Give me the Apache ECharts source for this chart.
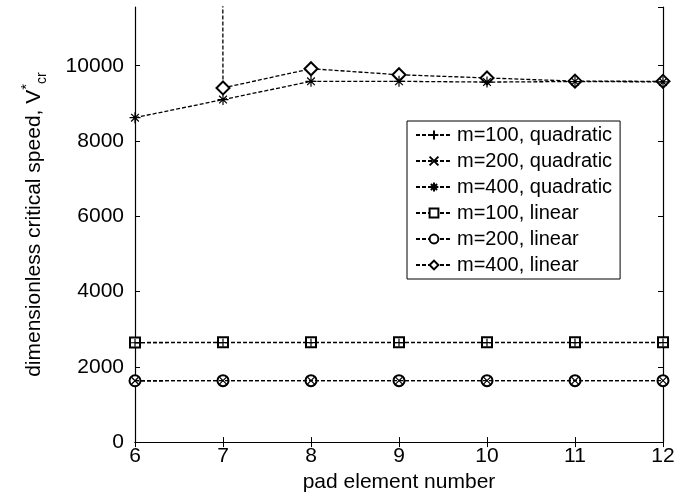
<!DOCTYPE html>
<html>
<head>
<meta charset="utf-8">
<script src="https://cdn.jsdelivr.net/npm/echarts@6/dist/echarts.min.js"></script>
<style>
  html, body { margin: 0; padding: 0; background: #fff; }
  #chart { width: 686px; height: 498px; }
</style>
</head>
<body>
<div id="chart"></div>
<script>
  // pad element numbers
  var padElements = [6, 7, 8, 9, 10, 11, 12];
  // quadratic pad elements
  var quadM100 = [2640, 2645, 2645, 2645, 2645, 2645, 2645];
  var quadM200 = [1630, 1632, 1632, 1632, 1632, 1632, 1632];
  var quadM400 = [8620, 9100, 9585, 9585, 9565, 9580, 9570];
  // linear pad elements (m=400 at 6 elements runs far off the top)
  var linM100 = [2645, 2650, 2650, 2650, 2650, 2650, 2650];
  var linM200 = [1630, 1632, 1632, 1632, 1632, 1632, 1632];
  var linM400 = [1000000, 9410, 9920, 9760, 9675, 9590, 9585];
  var yTicks = [0, 2000, 4000, 6000, 8000, 10000];

  var FONT = 'Liberation Sans, Arial, sans-serif';
  var PLUS = 'path://M5,0L5,10M0,5L10,5';
  var CROSS = 'path://M0,0L10,10M10,0L0,10';
  var STAR = 'path://M5,0L5,10M0,5L10,5M1.5,1.5L8.5,8.5M8.5,1.5L1.5,8.5';

  function pairs(vals) {
    return padElements.map(function (x, i) { return [x, vals[i]]; });
  }

  function mkSeries(name, vals, symbol, size, z) {
    return {
      name: name,
      type: 'line',
      data: pairs(vals),
      symbol: symbol,
      symbolSize: size,
      showAllSymbol: true,
      clip: true,
      z: z,
      lineStyle: { color: '#000', width: 1.3, type: [4, 2] },
      itemStyle: { color: '#000', borderColor: '#000', borderWidth: 1.2 },
      emphasis: { disabled: true },
      animation: false
    };
  }

  var chart = echarts.init(document.getElementById('chart'));
  chart.setOption({
    backgroundColor: '#fff',
    textStyle: { fontFamily: FONT },
    grid: { left: 135, right: 23, top: 7, bottom: 54 },
    legend: {
      orient: 'vertical',
      left: 407,
      top: 121,
      padding: [4, 8, 4, 8],
      itemWidth: 36,
      itemHeight: 11,
      itemGap: 6,
      borderColor: '#000',
      borderWidth: 1,
      backgroundColor: '#fff',
      textStyle: { fontFamily: FONT, fontSize: 20, color: '#000' },
      data: ['m=100, quadratic', 'm=200, quadratic', 'm=400, quadratic',
             'm=100, linear', 'm=200, linear', 'm=400, linear']
    },
    xAxis: [{
      type: 'value',
      min: 6, max: 12, interval: 1,
      name: 'pad element number',
      nameLocation: 'middle',
      nameGap: 29,
      nameTextStyle: { fontFamily: FONT, fontSize: 21, color: '#000' },
      axisLine: { show: true, lineStyle: { color: '#000', width: 1.2 } },
      axisTick: { inside: true, length: 5, lineStyle: { color: '#000' } },
      axisLabel: { fontFamily: FONT, fontSize: 21, color: '#000', margin: 4 },
      splitLine: { show: false }
    }, {
      type: 'value',
      position: 'top',
      min: 6, max: 12, interval: 1,
      axisLine: { show: true, lineStyle: { color: '#000', width: 1.2 } },
      axisTick: { inside: true, length: 5, lineStyle: { color: '#000' } },
      axisLabel: { show: false },
      splitLine: { show: false }
    }],
    yAxis: [{
      type: 'value',
      min: 0, max: 11560, interval: 2000,
      name: '{a|dimensionless critical speed, V}{sup|*}{sub|cr}',
      nameLocation: 'middle',
      nameGap: 86,
      nameTextStyle: {
        fontFamily: FONT, fontSize: 21, color: '#000',
        rich: {
          a: { fontFamily: FONT, fontSize: 21, color: '#000', lineHeight: 30 },
          sup: { fontFamily: FONT, fontSize: 15, color: '#000', verticalAlign: 'top', lineHeight: 30 },
          sub: { fontFamily: FONT, fontSize: 14, color: '#000', verticalAlign: 'bottom', lineHeight: 22 }
        }
      },
      axisLine: { show: true, lineStyle: { color: '#000', width: 1.2 } },
      axisTick: { inside: true, length: 5, lineStyle: { color: '#000' } },
      axisLabel: {
        fontFamily: FONT, fontSize: 21, color: '#000', margin: 11,
        showMaxLabel: false,
        formatter: function (v) { return yTicks.indexOf(v) >= 0 ? String(v) : ''; }
      },
      splitLine: { show: false }
    }, {
      type: 'value',
      position: 'right',
      min: 0, max: 11560, interval: 2000,
      axisLine: { show: true, lineStyle: { color: '#000', width: 1.2 } },
      axisTick: { inside: true, length: 5, lineStyle: { color: '#000' } },
      axisLabel: { show: false },
      splitLine: { show: false }
    }],
    series: [
      mkSeries('m=100, quadratic', quadM100, PLUS, 8, 6),
      mkSeries('m=200, quadratic', quadM200, CROSS, 7, 6),
      mkSeries('m=400, quadratic', quadM400, STAR, 11, 6),
      mkSeries('m=100, linear', linM100, 'emptyRect', 10, 5),
      mkSeries('m=200, linear', linM200, 'emptyCircle', 11, 5),
      mkSeries('m=400, linear', linM400, 'emptyDiamond', 13, 5)
    ]
  });
</script>
</body>
</html>
